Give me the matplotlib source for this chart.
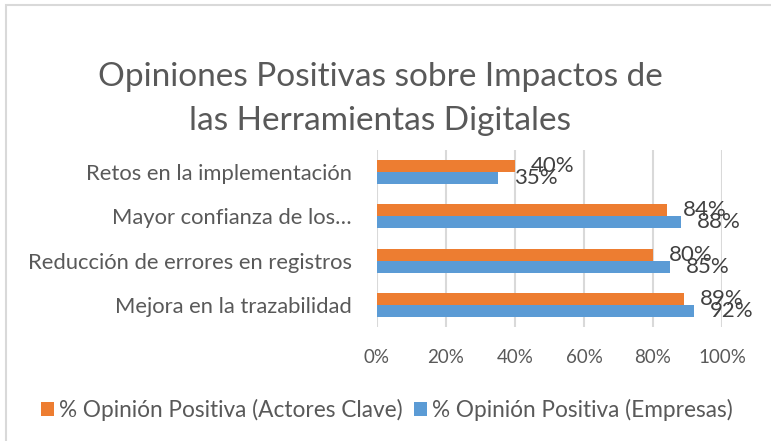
import matplotlib.pyplot as plt
from matplotlib.patches import Rectangle
from matplotlib.ticker import FuncFormatter

# data (top to bottom as shown in the chart)
categories = ['Retos en la implementación', 'Mayor confianza de los…',
              'Reducción de errores en registros', 'Mejora en la trazabilidad']
actores = [40, 84, 80, 89]
empresas = [35, 88, 85, 92]
series_names = ['% Opinión Positiva (Actores Clave)', '% Opinión Positiva (Empresas)']
x_ticks = [0, 20, 40, 60, 80, 100]

ORANGE = '#ED7D31'
BLUE = '#5B9BD5'
TEXT = '#595959'

plt.rcParams['font.family'] = ['Lato', 'DejaVu Sans']

fig = plt.figure(figsize=(7.71, 4.41), dpi=100)
ax = fig.add_axes([377 / 771, 1 - 327 / 441, 345 / 771, 177 / 441])

n = len(categories)
ypos = [n - 1 - i for i in range(n)]
h = 0.27
bars_o = ax.barh([y + h / 2 for y in ypos], actores, height=h, color=ORANGE,
                 label=series_names[0], zorder=3)
bars_b = ax.barh([y - h / 2 for y in ypos], empresas, height=h, color=BLUE,
                 label=series_names[1], zorder=3)

for bars, vals in ((bars_o, actores), (bars_b, empresas)):
    for b, v in zip(bars, vals):
        ax.text(v + 4.6, b.get_y() + b.get_height() / 2, f'{v}%', ha='left',
                va='center', fontsize=16, color='#404040', zorder=4)

ax.set_xlim(0, 100)
ax.set_ylim(-0.5, n - 0.5)
ax.set_xticks(x_ticks)
ax.xaxis.set_major_formatter(FuncFormatter(lambda v, p: f'{v:.0f}%'))
ax.set_yticks(ypos)
ax.set_yticklabels(categories)
ax.tick_params(axis='both', length=0, colors=TEXT)
ax.tick_params(axis='x', pad=16, labelsize=13.5)
ax.tick_params(axis='y', pad=18, labelsize=15.8)
ax.grid(axis='x', color='#d9d9d9', linewidth=1.5, zorder=0)
for s in ax.spines.values():
    s.set_visible(False)

fig.text(0.493, 1 - 99 / 441, 'Opiniones Positivas sobre Impactos de\nlas Herramientas Digitales',
         ha='center', va='center', fontsize=24, color=TEXT, linespacing=1.55)

fig.legend(handles=[bars_o, bars_b], loc='center', bbox_to_anchor=(0.502, 1 - 410 / 441),
           ncol=2, frameon=False, fontsize=16.3, handlelength=0.55, handleheight=0.55,
           handletextpad=0.25, columnspacing=0.5, labelcolor=TEXT)

# chart frame
fig.patches.append(Rectangle((6 / 771, -0.05), 1.1, 1 - 5 / 441 + 0.05,
                             transform=fig.transFigure, fill=False,
                             edgecolor='#d9d9d9', linewidth=1.5))

fig.savefig('out.png', dpi=100)
